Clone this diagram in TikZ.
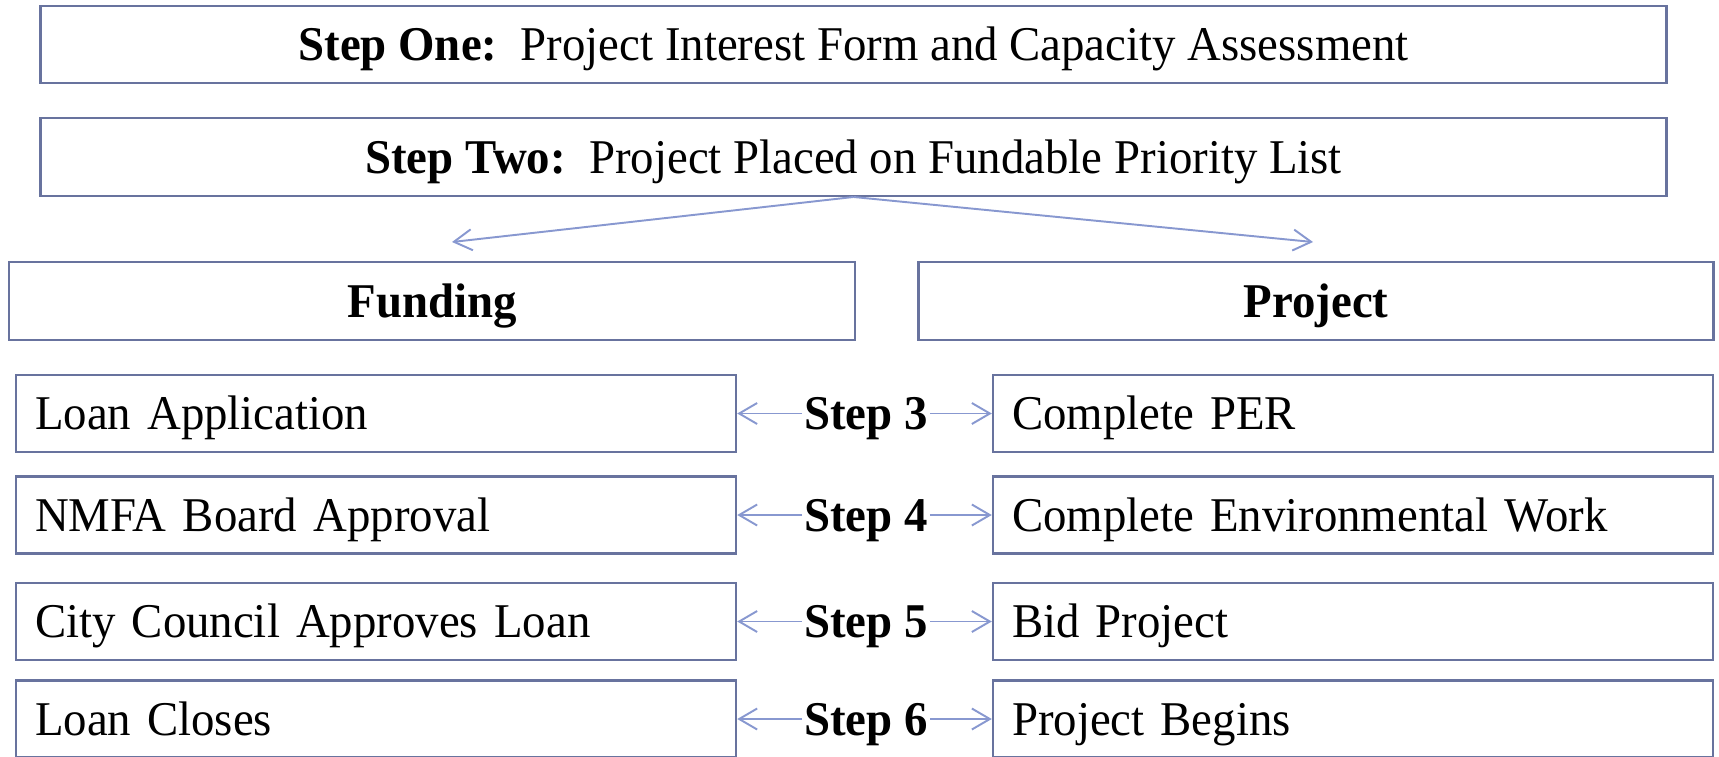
\documentclass[tikz,border=0pt]{standalone}
\usepackage{fontspec}
\setmainfont{Liberation Serif}[FakeStretch = 0.965]
\usetikzlibrary{shapes, arrows.meta}
\definecolor{boxline}{RGB}{104,115,158}
\definecolor{arrowline}{RGB}{136,152,208}
\tikzstyle{stage} =
        [
                rectangle,
                draw = boxline,
                line width = 1.4pt,
                minimum width = 32.52cm,
                minimum height = 1.55cm,
                text height = 0.86cm,
                text depth = 0.22cm,
                font = \fontsize{27.6}{33}\selectfont
        ]
\tikzstyle{track} =
        [
                rectangle,
                draw = boxline,
                line width = 1.4pt,
                minimum height = 1.55cm,
                text height = 0.86cm,
                text depth = 0.22cm,
                font = \fontsize{27.6}{33}\selectfont\bfseries
        ]
\tikzstyle{task} =
        [
                rectangle,
                draw = boxline,
                line width = 1.4pt,
                text width = 13.64cm,
                inner xsep = 0.38cm,
                align = left,
                minimum height = 1.54cm,
                text height = 0.86cm,
                text depth = 0.22cm,
                font = \fontsize{27.6}{33}\selectfont
        ]
\tikzstyle{steplabel} =
        [
                inner sep = 1pt,
                text height = 0.86cm,
                text depth = 0.22cm,
                font = \fontsize{27.6}{33}\selectfont\bfseries
        ]
\tikzstyle{line} =
        [
                draw = arrowline,
                line width = 1.1pt,
                -{Straight Barb[length = 0.36cm, width = 0.42cm]}
        ]

\begin{document}
\begin{tikzpicture}[node distance = 2cm, auto]
        \clip (0,0) rectangle (34.38,-15.12);
        \node [stage] (one) at (17.07,-0.89) {\textbf{Step One:}\ \ Project Interest Form and Capacity Assessment};
        \node [stage, below of = one, node distance = 2.25cm] (two) {\textbf{Step Two:}\ \ Project Placed on Fundable Priority List};
        \node [track, below of = two, node distance = 2.88cm, xshift = -8.43cm, minimum width = 16.92cm] (funding) {Funding};
        \node [track, below of = two, node distance = 2.88cm, xshift = 9.25cm, minimum width = 15.9cm] (project) {Project};

	\node [steplabel, below of = two, node distance = 5.13cm, xshift = 0.25cm] (s3) {Step 3};
	\node [steplabel, below of = s3, node distance = 2.03cm] (s4) {Step 4};
	\node [steplabel, below of = s4, node distance = 2.13cm] (s5) {Step 5};
	\node [steplabel, below of = s5, node distance = 1.95cm] (s6) {Step 6};

	\node [task, left of = s3, node distance = 9.8cm] (loan) {Loan Application};
	\node [task, left of = s4, node distance = 9.8cm] (board) {NMFA Board Approval};
	\node [task, left of = s5, node distance = 9.8cm] (council) {City Council Approves Loan};
	\node [task, left of = s6, node distance = 9.8cm] (closes) {Loan Closes};
	\node [task, right of = s3, node distance = 9.74cm] (per) {Complete PER};
	\node [task, right of = s4, node distance = 9.74cm] (enviro) {Complete Environmental Work};
	\node [task, right of = s5, node distance = 9.74cm] (bid) {Bid Project};
	\node [task, right of = s6, node distance = 9.74cm] (begins) {Project Begins};

        \coordinate (fundtip) at ([xshift = 0.4cm, yshift = 0.38cm]funding.north);
        \coordinate (projtip) at ([xshift = -0.06cm, yshift = 0.38cm]project.north);

        \path [line] (two.south) -- (fundtip);
        \path [line] (two.south) -- (projtip);
	\path [line] (s3) -- (loan);
	\path [line] (s3) -- (per);
	\path [line] (s4) -- (board);
	\path [line] (s4) -- (enviro);
	\path [line] (s5) -- (council);
	\path [line] (s5) -- (bid);
	\path [line] (s6) -- (closes);
	\path [line] (s6) -- (begins);
\end{tikzpicture}
\end{document}
